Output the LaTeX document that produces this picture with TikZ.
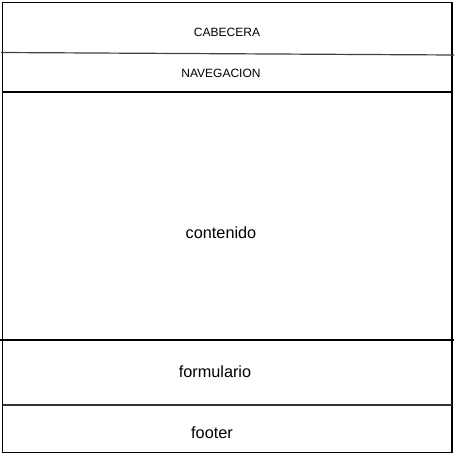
\documentclass[tikz,border=0pt]{standalone}
\usepackage{fontspec}
\setmainfont{Liberation Sans}

\begin{document}
\begin{tikzpicture}[x=0.75pt, y=-0.75pt, line width=0.9pt]
  % Fix the page size to the reference proportions
  \useasboundingbox (0,0) rectangle (454,456);
  \tikzset{small label/.style={font=\fontsize{9}{11}\selectfont},
           big label/.style={font=\fontsize{12.2}{14}\selectfont}}

  % Outer frame of the page layout
  \draw[black] (2.5,2.5) rectangle (452,452.5);

  % Dividers between the sections
  \coordinate (cabL) at (1,52.5);   \coordinate (cabR) at (454,55);
  \coordinate (navL) at (2.5,92);   \coordinate (navR) at (452,92);
  \coordinate (conL) at (0,340);    \coordinate (conR) at (454,340);
  \coordinate (forL) at (2.5,405);  \coordinate (forR) at (452,405);
  \draw[black!75] (cabL) -- (cabR);
  \draw (navL) -- (navR);
  \draw (conL) -- (conR);
  \draw[black!80] (forL) -- (forR);

  % Section labels
  \node[small label] (cabecera) at (227,32) {CABECERA};
  \node[small label] (navegacion) at (221,73) {NAVEGACION};
  \node[big label] (contenido) at (221,233) {contenido};
  \node[big label] (formulario) at (215,372) {formulario};
  \node[big label] (footer) at (212,433) {footer};
\end{tikzpicture}
\end{document}
